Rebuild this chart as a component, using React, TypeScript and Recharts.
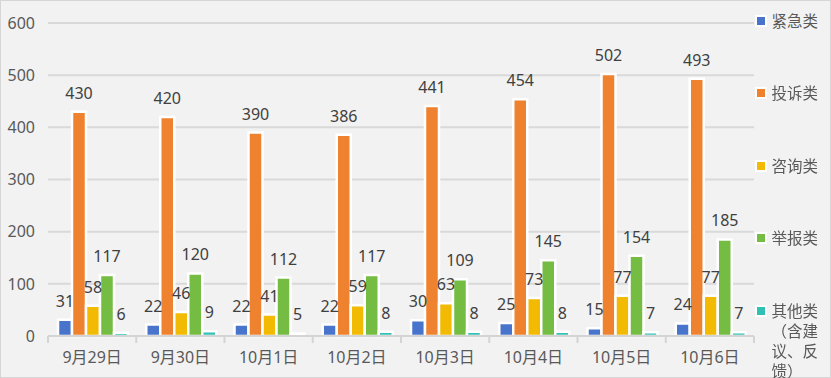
import React from 'react';
import { BarChart, Bar, XAxis, YAxis, CartesianGrid, LabelList } from 'recharts';

const categories = ['9月29日', '9月30日', '10月1日', '10月2日', '10月3日', '10月4日', '10月5日', '10月6日'];
const urgent = [31, 22, 22, 22, 30, 25, 15, 24];
const complaint = [430, 420, 390, 386, 441, 454, 502, 493];
const consult = [58, 46, 41, 59, 63, 73, 77, 77];
const report = [117, 120, 112, 117, 109, 145, 154, 185];
const other = [6, 9, 5, 8, 8, 8, 7, 7];
const yTicks = [0, 100, 200, 300, 400, 500, 600];

const seriesNames = ['紧急类', '投诉类', '咨询类', '举报类', '其他类（含建议、反馈）'];
const seriesValues = [urgent, complaint, consult, report, other];
const seriesColors = ['#4874CB', '#EE822F', '#F2BA02', '#75BD42', '#30C0B4'];
const keys = ['s0', 's1', 's2', 's3', 's4'];

const data = categories.map((c, i) => {
  const row: any = { name: c };
  seriesValues.forEach((arr, s) => {
    row[keys[s]] = arr[i];
  });
  return row;
});

const FONT = "'Noto Sans', 'Noto Sans CJK SC', sans-serif";

const XTick = (props: any) => {
  const { x, y, payload, index, width, visibleTicksCount } = props;
  const band = width / (visibleTicksCount || categories.length);
  return (
    <g>
      <line x1={x - band / 2} x2={x - band / 2} y1={y} y2={y + 7} stroke="#d4d4d4" strokeWidth={2} />
      {index === (visibleTicksCount || categories.length) - 1 && (
        <line x1={x + band / 2} x2={x + band / 2} y1={y} y2={y + 7} stroke="#d4d4d4" strokeWidth={2} />
      )}
      <text x={x} y={y + 21} textAnchor="middle" dominantBaseline="central" fill="#595959" fontSize={16}>
        {payload.value}
      </text>
    </g>
  );
};

export default function App() {
  return (
    <div
      style={{
        position: 'fixed',
        left: 0,
        top: 0,
        width: 831,
        height: 378,
        background: '#f2f2f2',
        boxSizing: 'border-box',
        border: '1.5px solid #d6d6d6',
        fontFamily: FONT,
      }}
    >
      <div style={{ position: 'absolute', left: -1.5, top: -1.5 }}>
        <BarChart
          width={831}
          height={378}
          data={data}
          margin={{ top: 23, right: 77, left: 0, bottom: 0 }}
          barCategoryGap={10}
          barGap={0}
        >
          <CartesianGrid vertical={false} stroke="#d9d9d9" strokeWidth={2} />
          <XAxis
            dataKey="name"
            height={42}
            tickSize={0}
            tickMargin={0}
            tickLine={false}
            axisLine={{ stroke: '#d4d4d4', strokeWidth: 2 }}
            tick={<XTick />}
            interval={0}
          />
          <YAxis
            width={48}
            domain={[0, 600]}
            ticks={yTicks}
            axisLine={false}
            tickLine={false}
            tickMargin={7}
            tick={{ fill: '#595959', fontSize: 16 }}
          />
          {keys.map((k, s) => (
            <Bar key={k} dataKey={k} name={seriesNames[s]} fill={seriesColors[s]} stroke="#ffffff" strokeWidth={2.5} isAnimationActive={false}>
              <LabelList dataKey={k} position="top" offset={13} fill="#404040" fontSize={16} />
            </Bar>
          ))}
        </BarChart>
      </div>
      <div style={{ position: 'absolute', left: 753.5, top: 0 }}>
        {seriesNames.map((n, s) => (
          <div key={n} style={{ position: 'absolute', left: 0, top: 9.5 + s * 72.5, display: 'flex', alignItems: 'flex-start' }}>
            <div
              style={{
                width: 8,
                height: 8,
                background: seriesColors[s],
                border: '2px solid #ffffff',
                marginTop: 4,
                flex: 'none',
              }}
            />
            <div
              style={{
                marginLeft: 5,
                width: 50,
                fontSize: 15.5,
                lineHeight: '20px',
                color: '#595959',
                wordBreak: 'break-all',
              }}
            >
              {n}
            </div>
          </div>
        ))}
      </div>
    </div>
  );
}
